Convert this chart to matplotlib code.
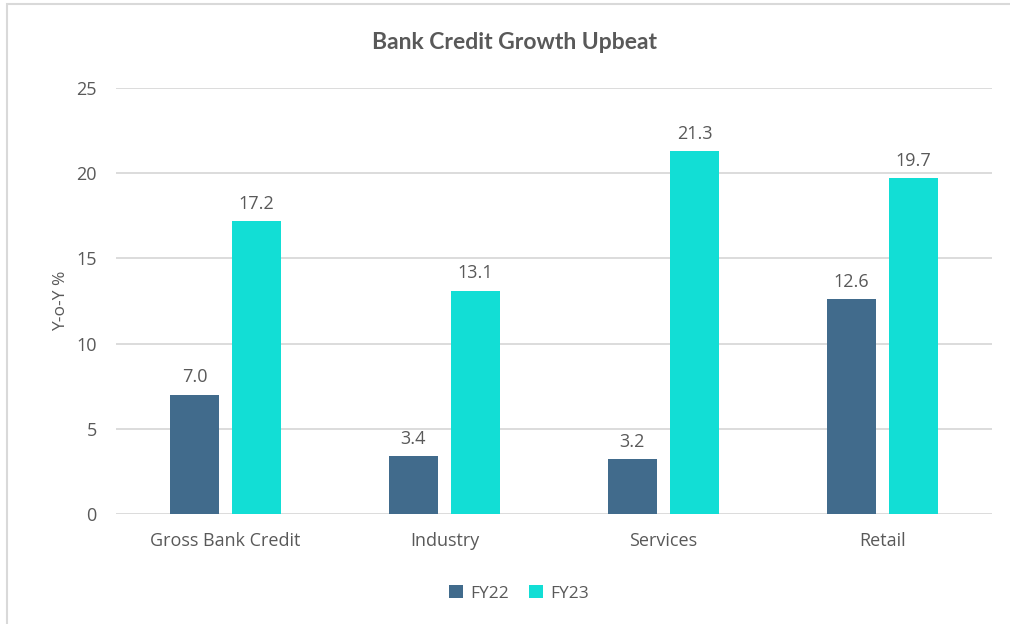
import numpy as np
import matplotlib.pyplot as plt
from matplotlib.patches import Rectangle

# bank credit growth, y-o-y %
categories = ['Gross Bank Credit', 'Industry', 'Services', 'Retail']
fy22 = [7.0, 3.4, 3.2, 12.6]
fy23 = [17.2, 13.1, 21.3, 19.7]
series_names = ['FY22', 'FY23']
yticks = [0, 5, 10, 15, 20, 25]

c22 = '#416B8C'
c23 = '#12DED5'
txt = '#595959'

plt.rcParams['font.family'] = ['Open Sans', 'DejaVu Sans']

fig = plt.figure(figsize=(10.1, 6.24), dpi=100)
ax = fig.add_axes([0.1149, 0.1763, 0.8673, 0.6827])

x = np.arange(len(categories))
w = 0.225
off = 0.142
b1 = ax.bar(x - off, fy22, w, color=c22, label=series_names[0], zorder=3)
b2 = ax.bar(x + off, fy23, w, color=c23, label=series_names[1], zorder=3)

for bars, vals in ((b1, fy22), (b2, fy23)):
    for r, v in zip(bars, vals):
        ax.annotate(f'{v:.1f}', (r.get_x() + r.get_width() / 2, v),
                    xytext=(0, 6), textcoords='offset points',
                    ha='center', va='bottom', fontsize=13, color=txt)

ax.set_xlim(-0.5, len(categories) - 0.5)
ax.set_ylim(0, 25)
ax.set_yticks(yticks)
ax.set_xticks(x)
ax.set_xticklabels(categories)
ax.tick_params(axis='both', length=0, labelsize=13, labelcolor=txt)
ax.tick_params(axis='x', pad=13)
ax.tick_params(axis='y', pad=14)
ax.grid(axis='y', color='#D9D9D9', linewidth=1.3, zorder=0)
for s in ax.spines.values():
    s.set_visible(False)

ax.set_ylabel('Y-o-Y %', fontsize=12.5, color=txt, labelpad=5)

fig.text(0.509, 0.932, 'Bank Credit Growth Upbeat', ha='center', va='center',
         fontsize=16.5, fontweight='bold', color=txt, family=['Lato', 'DejaVu Sans'])

ax.legend(loc='upper center', bbox_to_anchor=(0.46, -0.13), ncol=2, frameon=False,
          fontsize=12.5, labelcolor=txt, handlelength=0.8, handleheight=0.8,
          handletextpad=0.4, columnspacing=1.2)

# light frame around the chart area
fig.patches.append(Rectangle((0.007, -0.1), 1.1, 1.094, transform=fig.transFigure,
                             fill=False, edgecolor='#D9D9D9', linewidth=1.5))

fig.savefig('out.png', dpi=100)
